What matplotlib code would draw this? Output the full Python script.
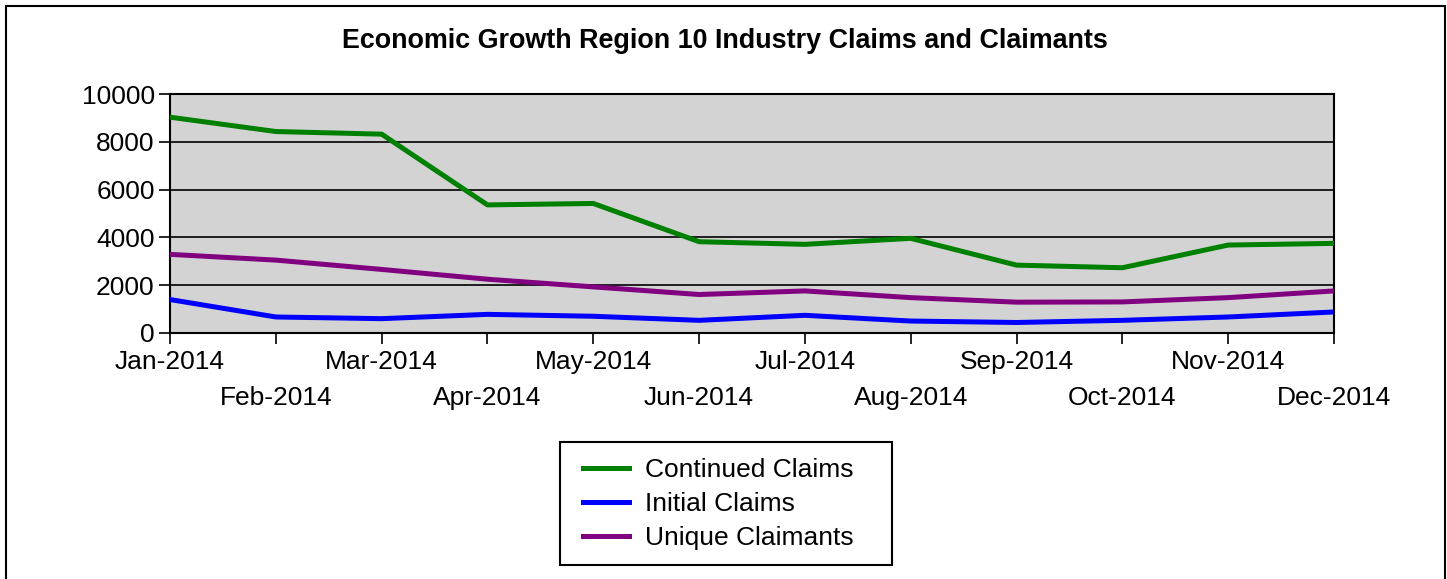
"""Region 10 claims chart, recreated from the reference image."""

import matplotlib
matplotlib.use("Agg")
import matplotlib.pyplot as plt
from matplotlib.patches import Rectangle

plt.rcParams["font.family"] = ["Liberation Sans", "DejaVu Sans"]

months = ["Jan-2014", "Feb-2014", "Mar-2014", "Apr-2014", "May-2014", "Jun-2014",
          "Jul-2014", "Aug-2014", "Sep-2014", "Oct-2014", "Nov-2014", "Dec-2014"]
continued_claims = [9030, 8430, 8320, 5360, 5420, 3820, 3710, 3960, 2840, 2730, 3680, 3750]
initial_claims = [1400, 670, 600, 780, 700, 530, 740, 500, 440, 530, 670, 880]
unique_claimants = [3290, 3050, 2660, 2250, 1930, 1610, 1760, 1480, 1290, 1300, 1480, 1760]

fig = plt.figure(figsize=(14.47, 5.79), dpi=100)
ax = fig.add_axes([170 / 1447, 1 - 333 / 579, (1334 - 170) / 1447, (333 - 94) / 579])

# outer frame round the whole chart (bottom edge runs off the image)
fig.patches.append(Rectangle((6 / 1447, -0.05), 1439 / 1447, 1.05 - 6 / 579,
                             transform=fig.transFigure, fill=False,
                             edgecolor="black", linewidth=1.5))

x = list(range(len(months)))
ax.set_facecolor("#D3D3D3")
ax.plot(x, continued_claims, color="#008000", lw=3.6, label="Continued Claims", zorder=3)
ax.plot(x, initial_claims, color="#0000FF", lw=3.6, label="Initial Claims", zorder=3)
ax.plot(x, unique_claimants, color="#800080", lw=3.6, label="Unique Claimants", zorder=3)

ax.set_xlim(0, 11)
ax.set_ylim(0, 10000)
ax.set_yticks(range(0, 10001, 2000))
ax.grid(axis="y", color="black", lw=1.2, zorder=1)
ax.set_axisbelow(True)
ax.tick_params(axis="y", labelsize=19, length=8, width=1.2, direction="out", pad=3)
ax.set_xticks(x)
# stagger the month labels over two rows
ax.set_xticklabels([m if i % 2 == 0 else "\n" + m for i, m in enumerate(months)],
                   linespacing=1.65)
ax.tick_params(axis="x", labelsize=19, length=8, width=1.2, direction="out", pad=4)
for s in ax.spines.values():
    s.set_linewidth(1.5)

fig.text(725 / 1447, 1 - 41 / 579, "Economic Growth Region 10 Industry Claims and Claimants",
         ha="center", va="center", fontsize=19.4, fontweight="bold")

# legend: entries without frame, box drawn separately so padding matches
fig.patches.append(Rectangle((560 / 1447, 1 - 565 / 579), 332 / 1447, 123 / 579,
                             transform=fig.transFigure, fill=False,
                             edgecolor="black", linewidth=1.5))
ax.legend(loc="upper left", bbox_to_anchor=(570 / 1447, 1 - 445 / 579),
          bbox_transform=fig.transFigure, fontsize=19, frameon=False,
          handlelength=1.75, handletextpad=0.6, borderpad=0.5,
          labelspacing=0.38, borderaxespad=0)

fig.savefig("out.png", dpi=100)
